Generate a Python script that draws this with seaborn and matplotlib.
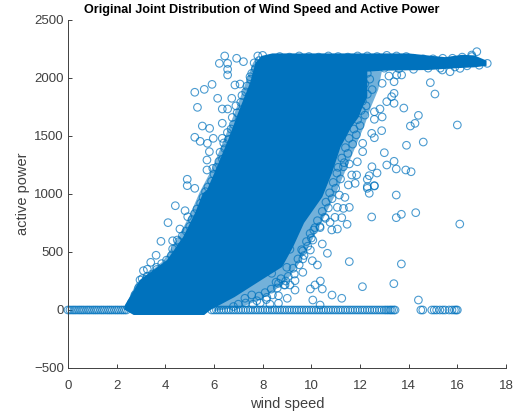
import matplotlib
matplotlib.use("Agg")
import matplotlib.pyplot as plt
import pandas as pd
import seaborn as sns

mass_wind = [2.3, 2.34, 2.96, 4.07, 4.73, 5.22, 5.55, 5.71, 6.12, 6.58, 6.99, 7.48, 7.7, 7.95, 8.4,
             10.0, 12.0, 14.0, 15.0, 15.5, 16.2, 16.7, 17.2, 17.2, 16.7, 16.0, 14.8, 13.0, 12.3,
             12.3, 12.1, 11.95, 11.65, 11.2, 10.85, 10.45, 9.7, 9.25, 8.8, 7.95, 6.85, 5.85, 5.6, 2.7]
mass_power = [5, 43, 259, 431, 629, 836, 1009, 1034, 1233, 1466, 1698, 1957, 2129, 2190, 2212,
              2212, 2212, 2212, 2190, 2180, 2200, 2195, 2150, 2105, 2092, 2085, 2069, 2063, 2055,
              1836, 1750, 1664, 1578, 1405, 1181, 974, 750, 543, 371, 259, 112, 0, -43, -43]

# speckled rim around the solid part, same idea but paler
rim_right_wind = [12.3, 12.9, 12.75, 12.45, 12.2, 11.8, 11.4, 11.0, 10.4, 9.9, 9.4, 8.9, 8.0, 7.2, 6.0, 8.0]
rim_right_power = [2060, 2060, 1900, 1750, 1600, 1400, 1200, 1000, 750, 550, 370, 230, 100, 30, -10, 1000]
rim_left_wind = [2.3, 2.8, 3.9, 4.55, 5.05, 5.4, 5.95, 6.4, 6.85, 7.3, 7.6, 7.8, 8.0]
rim_left_power = [10, 230, 420, 630, 840, 1010, 1230, 1466, 1700, 1957, 2129, 2190, 1000]

# power = 0 row
zero_left = [0.0, 0.08, 0.17, 0.25, 0.33, 0.42, 0.5, 0.58, 0.66, 0.75, 0.83, 0.91, 1.0, 1.08, 1.16,
             1.24, 1.33, 1.41, 1.49, 1.58, 1.66, 1.74, 1.82, 1.91, 1.99, 2.07, 2.16, 2.24, 2.32, 2.4]
zero_mid = [5.9, 6.0, 6.1, 6.2, 6.3, 6.4, 6.5, 6.6, 6.7, 6.8, 6.9, 7.0, 7.1, 7.2, 7.3, 7.4, 7.5,
            7.6, 7.7, 7.8, 7.9, 8.0, 8.1, 8.2, 8.3, 8.4, 8.5, 8.6, 8.7, 8.8, 8.9, 9.0, 9.1, 9.2,
            9.3, 9.4, 9.5, 9.6, 9.7, 9.8, 9.9, 10.0, 10.1, 10.2, 10.3, 10.4, 10.5, 10.6, 10.7,
            10.8, 10.9, 11.0, 11.1, 11.2, 11.3, 11.4, 11.5, 11.6, 11.7, 11.8, 11.9, 12.0, 12.1,
            12.2, 12.3, 12.4, 12.5, 12.6, 12.7, 12.8, 12.9, 13.0, 13.08, 13.16, 13.24, 13.3, 13.38, 13.44]
zero_far = [14.5, 14.58, 14.95, 15.05, 15.15, 15.28, 15.4, 15.5, 15.66, 15.78, 15.88, 15.95, 16.0]

# single circles outside the solid part
out_wind = [6.44, 6.22, 6.56, 6.56, 6.56, 5.92, 5.6, 5.21, 6.15, 5.32, 6.34, 6.56, 6.73, 6.86, 7.07,
            5.52, 5.82, 5.21, 5.43, 5.73, 5.97, 6.34, 6.34, 5.81, 5.71, 5.71, 5.95, 4.9, 4.9, 5.21,
            6.93, 7.21, 7.48, 7.89,
            4.41, 4.81, 4.92, 4.11, 4.6, 3.82, 4.3, 4.49, 4.3, 3.62, 3.4, 3.1, 3.26, 3.64, 2.96, 3.21,
            8.65, 8.88, 9.12, 8.65, 9.01, 8.65, 8.17, 7.76, 7.27, 8.37, 8.99, 9.12,
            13.49, 12.48, 13.49, 13.7, 14.29, 16.1, 11.56, 13.7, 12.1, 13.39, 14.4, 11.25, 10.85, 10.45,
            10.37, 10.15, 9.96, 10.06, 10.36, 9.33, 9.33, 8.92, 9.65, 10.25, 10.04, 9.65, 10.66, 10.45,
            9.96, 10.06, 9.65, 11.47, 11.07, 10.84, 11.25, 11.56, 11.32, 11.07, 11.38, 11.15, 12.38,
            12.59, 12.3, 11.8, 11.52, 10.97, 10.77, 10.36, 10.15, 10.58,
            16.8, 16.59, 17.23, 15.7, 15.38, 16.11, 14.89, 15.08, 13.71, 13.51, 13.19, 13.4, 12.91,
            13.4, 13.3, 13.4, 13.1, 13.8, 12.82, 12.59, 14.4, 14.26, 14.07, 16.0, 12.91, 12.59, 12.89,
            12.48, 12.59, 14.6, 13.91, 12.11, 13.0, 12.11, 13.4, 13.1, 13.49, 13.88, 14.1, 12.49, 12.7,
            12.38, 11.86, 12.3, 12.59, 12.3, 11.66, 11.56, 11.89, 11.32]
out_power = [2190, 2126, 2126, 2075, 2026, 1945, 1902, 1877, 1825, 1747, 1733, 1733, 1825, 1940, 1948,
             1586, 1566, 1489, 1454, 1437, 1480, 1480, 1610, 1365, 1293, 1207, 1221, 1127, 1072, 1049,
             2170, 2141, 2011, 2054,
             899, 856, 804, 753, 698, 592, 597, 603, 526, 472, 411, 339, 351, 368, 259, 265,
             230, 216, 216, 123, 101, 58, 109, 80, 101, 316, 368, 523,
             991, 802, 796, 825, 839, 741, 417, 397, 201, 227, 86, 101, 129, 181,
             250, 216, 181, 86, 43, 172, 253, 216, 325, 388, 425, 440, 489, 569,
             517, 603, 509, 739, 698, 690, 796, 885, 876, 885, 971, 991, 1006,
             1069, 1049, 1092, 1078, 799, 756, 710, 710, 790,
             2227, 2198, 2126, 2054, 2069, 2083, 1960, 1862, 2026, 2026, 2017, 1968, 1954,
             1868, 1839, 1782, 1796, 1741, 1733, 1709, 1678, 1609, 1586, 1595, 1664, 1644, 1546,
             1523, 1485, 1448, 1420, 1437, 1356, 1365, 1282, 1250, 1216, 1207, 1192, 1235, 1181,
             1158, 1164, 1127, 1072, 1063, 1164, 1259, 1278, 1235]

# crowded circles along the edge of the solid part
edge_wind = [2.6, 2.75, 2.9, 3.05, 3.25, 3.45, 3.65, 3.85, 4.05, 4.25, 4.4, 4.55, 4.7, 4.85, 5.0, 5.1,
             5.2, 5.3, 5.45, 5.55, 5.65, 5.75, 5.9, 6.0, 6.1, 6.2, 6.35, 6.25, 6.45, 6.4, 6.6, 6.55,
             6.7, 6.8, 6.75, 6.95, 6.9, 7.1, 7.15, 7.3, 7.35, 7.5, 7.55, 7.7, 7.65, 7.85, 7.8, 8.0,
             12.3, 12.4, 12.2, 12.5, 12.3, 12.1, 12.1, 12.25, 12.05, 12.2, 11.9, 12.0, 11.75, 11.85,
             11.55, 11.7, 11.4, 11.5, 11.25, 11.35, 11.1, 11.05, 11.2, 10.9, 11.0, 10.75, 10.85, 10.6,
             10.7, 10.45, 10.55, 10.25, 10.35, 10.1, 9.95, 10.0, 9.8, 9.85, 9.6, 9.7, 9.45, 9.5, 9.25,
             9.3, 9.05, 8.95, 8.75, 8.55, 8.6, 8.35, 8.4, 8.1, 8.15, 7.85, 7.9, 7.55, 7.6, 7.3, 7.0,
             6.8, 8.3,
             8.7, 9.1, 9.5, 9.9, 10.3, 10.7, 11.1, 11.5, 11.9, 12.3, 12.7, 13.1, 13.5, 13.9, 14.2,
             14.6, 15.0, 15.4, 15.8, 16.2, 16.6, 13.0, 13.6, 14.2, 14.8, 15.3, 15.9, 16.4, 16.9]
edge_power = [60, 130, 190, 270, 290, 310, 350, 400, 430, 470, 530, 590, 640, 680, 720, 780,
              830, 870, 920, 970, 1020, 1060, 1110, 1170, 1230, 1280, 1300, 1360, 1390, 1440, 1470, 1530,
              1560, 1600, 1660, 1700, 1760, 1790, 1850, 1880, 1930, 1990, 2040, 2080, 2130, 2150, 2190, 2195,
              2040, 1990, 1950, 1900, 1860, 1900, 1800, 1760, 1720, 1680, 1640, 1590, 1560, 1510,
              1480, 1430, 1400, 1350, 1310, 1270, 1230, 1180, 1130, 1100, 1050, 1010, 960, 930,
              880, 850, 800, 770, 720, 690, 660, 620, 590, 550, 520, 470, 440, 390, 360,
              310, 290, 250, 270, 240, 190, 180, 130, 150, 90, 120, 60, 130, 50, 60, 50,
              30, 50,
              2185, 2180, 2190, 2185, 2180, 2190, 2185, 2180, 2190, 2190, 2185, 2195, 2190, 2185, 2170,
              2165, 2165, 2170, 2170, 2180, 2185, 2085, 2080, 2075, 2085, 2085, 2095, 2105, 2110]

x_ticks = [0, 2, 4, 6, 8, 10, 12, 14, 16, 18]
y_ticks = [-500, 0, 500, 1000, 1500, 2000, 2500]

sns.set_style("white")
plt.rcParams["font.family"] = ["Liberation Sans", "DejaVu Sans"]

BLUE = "#0072BD"
GRAY = "#404040"

fig = plt.figure(figsize=(5.25, 4.17), dpi=100)
ax = fig.add_axes([68 / 525, 1 - 368 / 417, 438 / 525, 348 / 417])

ax.fill(rim_right_wind, rim_right_power, color=BLUE, lw=0, alpha=0.55, zorder=1)
ax.fill(rim_left_wind, rim_left_power, color=BLUE, lw=0, alpha=0.55, zorder=1)
ax.fill(mass_wind, mass_power, color=BLUE, lw=0, zorder=3)

zero_wind = zero_left + zero_mid + zero_far
circles = pd.DataFrame({
    "wind": out_wind + edge_wind + zero_wind,
    "power": out_power + edge_power + [0] * len(zero_wind),
})
sns.scatterplot(data=circles, x="wind", y="power", ax=ax, s=30, marker="o",
                facecolor="none", edgecolor=BLUE, linewidth=0.8, alpha=0.7,
                clip_on=False, zorder=2)

ax.set_xlim(0, 18)
ax.set_ylim(-500, 2500)
ax.set_xticks(x_ticks)
ax.set_yticks(y_ticks)
ax.tick_params(direction="in", length=3, width=0.7, color=GRAY, labelcolor=GRAY,
               labelsize=9.5, pad=3, left=True, bottom=True)
ax.tick_params(axis="x", pad=8.5)
sns.despine(ax=ax)
for side in ["left", "bottom"]:
    ax.spines[side].set_color(GRAY)
    ax.spines[side].set_linewidth(0.7)

ax.set_xlabel("wind speed", fontsize=10.5, color=GRAY, labelpad=3.5)
ax.set_ylabel("active power", fontsize=10.5, color=GRAY, labelpad=3)
ax.set_title("Original Joint Distribution of Wind Speed and Active Power",
             x=0.443, fontsize=9.1, fontweight="bold", color="black", pad=5)

fig.savefig("out.png", dpi=100)
